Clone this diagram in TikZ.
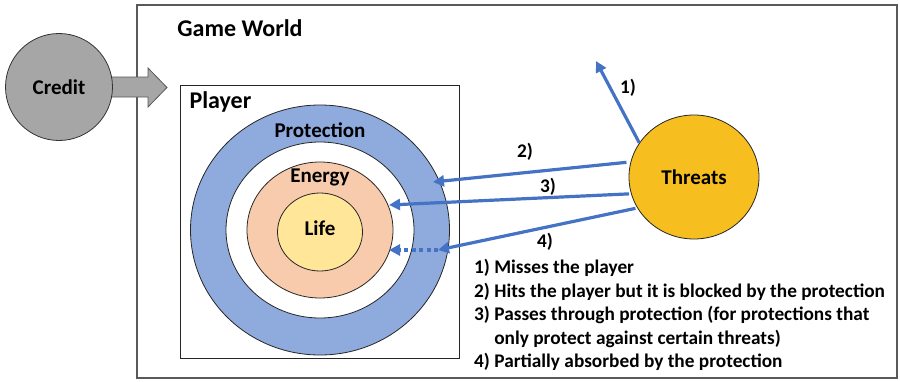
\documentclass[tikz,border=0pt]{standalone}
\usepackage{fontspec}
\setmainfont{Carlito}
\usetikzlibrary{shapes.geometric,arrows.meta}

\definecolor{framegray}{RGB}{89,89,89}
\definecolor{creditgray}{RGB}{166,166,166}
\definecolor{protblue}{RGB}{143,170,220}
\definecolor{energypeach}{RGB}{248,203,173}
\definecolor{lifeyellow}{RGB}{255,230,153}
\definecolor{threatgold}{RGB}{246,190,30}
\definecolor{hitblue}{RGB}{68,114,196}

\begin{document}
\begin{tikzpicture}[x=1pt, y=-1pt,
    bigtext/.style={font=\fontsize{21}{25}\selectfont\bfseries},
    titletext/.style={font=\fontsize{24}{28}\selectfont\bfseries},
    smalltext/.style={font=\fontsize{19.3}{23.5}\selectfont\bfseries},
    ring/.style={draw=black!85, line width=0.8pt, ellipse, inner sep=0pt},
    hit/.style={draw=hitblue, line width=3.2pt, -{Triangle[length=11pt, width=11pt]}}]

    \useasboundingbox (0,0) rectangle (900,381);

    % Frames
    \draw [framegray, line width=1.4pt] (137,5) rectangle (897,378);
    \node (world) [titletext] at (240,28) {Game World};
    \draw [black!85, line width=1pt] (180,85) rectangle (459,358);
    \node (player) [titletext, anchor=west] at (186,102) {Player};

    % Credit
    \draw [draw=framegray, fill=creditgray, line width=0.8pt] (100,77) -- (148,77) -- (148,68) -- (167,87.5) -- (148,107) -- (148,97) -- (100,97);
    \node (credit) [draw=black!80, fill=creditgray, circle, line width=0.8pt, minimum size=107pt, bigtext] at (59,87) {Credit};

    % Player rings
    \node (protection) [ring, fill=protblue, minimum width=259pt, minimum height=250pt] at (320,230) {};
    \node (gap) [ring, fill=white, minimum width=188pt, minimum height=176pt] at (320,230) {};
    \node (energy) [ring, fill=energypeach, minimum width=146pt, minimum height=136pt] at (320,230) {};
    \node (life) [ring, fill=lifeyellow, minimum width=85pt, minimum height=78pt] at (320,232) {};
    \node (protlabel) [bigtext] at (320,130) {Protection};
    \node (energylabel) [bigtext] at (320,177) {Energy};
    \node (lifelabel) [bigtext] at (320,228) {Life};

    % Threats
    \node (threats) [draw=black!85, fill=threatgold, ellipse, line width=0.8pt, minimum width=130pt, minimum height=124pt, bigtext] at (694,177) {Threats};

    % Arrows
    \coordinate (miss) at (596,61);
    \coordinate (block) at (433,182);
    \coordinate (pass) at (389,205);
    \coordinate (absorb) at (438,250);
    \coordinate (absorbend) at (389,250);
    \draw [hit] (threats.148) -- (miss);
    \draw [hit] ([xshift=-4pt]threats.167) -- (block);
    \draw [hit] ([xshift=-2pt]threats.195) -- (pass);
    \draw [hit] ([xshift=-2pt]threats.209) -- (absorb);
    \draw [hit, dash pattern=on 4pt off 3.5pt] (absorb) -- (absorbend);
    \node (n1) [smalltext] at (628,88) {1)};
    \node (n2) [smalltext] at (525,152) {2)};
    \node (n3) [smalltext] at (548,187) {3)};
    \node (n4) [smalltext] at (545,242) {4)};

    % Legend
    \node (legend) [smalltext, anchor=north west, inner sep=0pt] at (474,257) {%
      \begin{tabular}{@{}l@{\ }l@{}}
        1) & Misses the player\\
        2) & Hits the player but it is blocked by the protection\\
        3) & Passes through protection (for protections that\\
           & only protect against certain threats)\\
        4) & Partially absorbed by the protection
      \end{tabular}};

\end{tikzpicture}
\end{document}
